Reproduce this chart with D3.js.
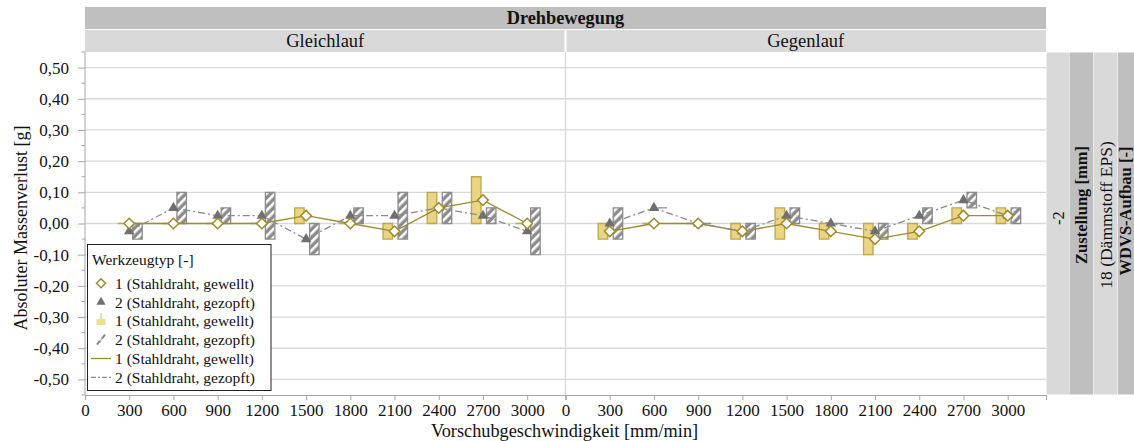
<!DOCTYPE html>
<html><head><meta charset="utf-8">
<script src="https://cdn.jsdelivr.net/npm/d3@7"></script>
<style>
body{margin:0;background:#fff}
text{font-family:"Liberation Serif","Times New Roman",serif;fill:#111}
</style>
</head><body>
<svg id="c" width="1134" height="441"></svg>
<script>
// ---------- data ----------
const speeds = [300, 600, 900, 1200, 1500, 1800, 2100, 2400, 2700, 3000];
const xTickValues = [0, 300, 600, 900, 1200, 1500, 1800, 2100, 2400, 2700, 3000];
const yTickValues = [-0.5, -0.4, -0.3, -0.2, -0.1, 0, 0.1, 0.2, 0.3, 0.4, 0.5];
const panelNames = ["Gleichlauf", "Gegenlauf"];
const seriesNames = ["1 (Stahldraht, gewellt)", "2 (Stahldraht, gezopft)"];

// Gleichlauf
const glS1Mean = [0, 0, 0, 0, 0.025, 0, -0.025, 0.05, 0.075, 0];
const glS1Min  = [0, 0, 0, 0, 0, 0, -0.05, 0, 0, 0];
const glS1Max  = [0, 0, 0, 0, 0.05, 0, 0, 0.10, 0.15, 0];
const glS2Mean = [-0.025, 0.05, 0.025, 0.025, -0.05, 0.025, 0.025, 0.05, 0.025, -0.025];
const glS2Min  = [-0.05, 0, 0, -0.05, -0.10, 0, -0.05, 0, 0, -0.10];
const glS2Max  = [0, 0.10, 0.05, 0.10, 0, 0.05, 0.10, 0.10, 0.05, 0.05];

// Gegenlauf
const geS1Mean = [-0.025, 0, 0, -0.025, 0, -0.025, -0.05, -0.025, 0.025, 0.025];
const geS1Min  = [-0.05, 0, 0, -0.05, -0.05, -0.05, -0.10, -0.05, 0, 0];
const geS1Max  = [0, 0, 0, 0, 0.05, 0, 0, 0, 0.05, 0.05];
const geS2Mean = [0, 0.05, 0, -0.025, 0.025, 0, -0.025, 0.025, 0.075, 0.025];
const geS2Min  = [-0.05, 0.05, 0, -0.05, 0, 0, -0.05, 0, 0.05, 0];
const geS2Max  = [0.05, 0.05, 0, 0, 0.05, 0, 0, 0.05, 0.10, 0.05];

const stripLabels = ["-2", "Zustellung [mm]", "18 (Dämmstoff EPS)", "WDVS-Aufbau [-]"];

// ---------- build ----------
const panels = [
  {name: panelNames[0], s1: {mean: glS1Mean, min: glS1Min, max: glS1Max}, s2: {mean: glS2Mean, min: glS2Min, max: glS2Max}},
  {name: panelNames[1], s1: {mean: geS1Mean, min: geS1Min, max: geS1Max}, s2: {mean: geS2Mean, min: geS2Min, max: geS2Max}}
];

const OLIVE = "#a08a2e", YFILL = "#e9d583", YSTROKE = "#bea749", GTRI = "#6f6f6f", GLINE = "#8a8a8a", GRID = "#d9d9d9", AXIS = "#a6a6a6";
const svg = d3.select("#c");
const defs = svg.append("defs");
const pat = defs.append("pattern").attr("id", "hatch").attr("patternUnits", "userSpaceOnUse")
  .attr("width", 6).attr("height", 6).attr("patternTransform", "rotate(45)");
pat.append("rect").attr("width", 6).attr("height", 6).attr("fill", "#8c8c8c");
pat.append("rect").attr("x", 0).attr("width", 2.6).attr("height", 6).attr("fill", "#ffffff");

const pTop = 52, pBottom = 395, pLeft = 85, panelW = 480.5;
const y = d3.scaleLinear().domain([-0.55, 0.55]).range([pBottom, pTop]);
const loc = d3.formatLocale({decimal: ",", thousands: ".", grouping: [3], currency: ["", "€"], minus: "-"});
const yFmt = loc.format(".2f");

// headers
svg.append("rect").attr("x", pLeft).attr("y", 7).attr("width", panelW * 2).attr("height", 22).attr("fill", "#bfbfbf");
svg.append("text").attr("x", pLeft + panelW).attr("y", 18).attr("dy", ".35em").attr("text-anchor", "middle")
  .attr("font-size", 18.3).attr("font-weight", "bold").text("Drehbewegung");

// right strips
const stripX = [1046.5, 1069.5, 1093.5, 1118];
const stripW = [22.5, 23.5, 24, 16];
const stripCx = [1057.8, 1081.3, 1105.5, 1125.5];
const stripCy = [218, 205, 215, 211];
const stripFill = ["#d9d9d9", "#bfbfbf", "#d9d9d9", "#bfbfbf"];
const stripBold = [false, true, false, true];
stripLabels.forEach((lab, i) => {
  svg.append("rect").attr("x", stripX[i]).attr("y", pTop + 0.5).attr("width", stripW[i]).attr("height", pBottom - pTop - 1).attr("fill", stripFill[i]);
  svg.append("text").attr("transform", `translate(${stripCx[i]},${stripCy[i]}) rotate(-90)`)
    .attr("dy", ".35em").attr("text-anchor", "middle").attr("font-size", i === 2 ? 17.5 : 16.5)
    .attr("font-weight", stripBold[i] ? "bold" : "normal").text(lab);
});

panels.forEach((p, pi) => {
  const x0 = pLeft + pi * panelW;
  const x = d3.scaleLinear().domain([0, 3260]).range([x0, x0 + panelW]);
  const g = svg.append("g");

  // strip header
  g.append("rect").attr("x", x0 + (pi ? 1 : 0)).attr("y", 30).attr("width", panelW - 1).attr("height", 22).attr("fill", "#d9d9d9");
  g.append("text").attr("x", x0 + panelW / 2).attr("y", 41).attr("dy", ".35em").attr("text-anchor", "middle")
    .attr("font-size", 18.5).text(p.name);

  // grid
  g.selectAll("line.grid").data(yTickValues).join("line")
    .attr("x1", x0).attr("x2", x0 + panelW).attr("y1", d => y(d)).attr("y2", d => y(d))
    .attr("stroke", GRID).attr("stroke-width", 1.3);

  if (pi === 1) {
    g.append("line").attr("x1", x0).attr("x2", x0).attr("y1", pTop).attr("y2", pBottom).attr("stroke", GRID).attr("stroke-width", 1.3);
  }

  // x axis
  const ax = g.append("g").attr("transform", `translate(0,${pBottom})`)
    .call(d3.axisBottom(x).tickValues(xTickValues).tickSize(5).tickPadding(4).tickFormat(d3.format("d")));
  ax.select(".domain").attr("stroke", AXIS);
  ax.selectAll(".tick line").attr("stroke", AXIS);
  ax.selectAll("text").attr("font-size", 17).attr("font-family", "Liberation Serif").attr("fill", "#111");

  const barPath = (xa, xb, v1, v2) => {
    const ya = y(Math.max(v1, v2)), yb = y(Math.min(v1, v2));
    return `M${xa},${ya}H${xb}V${yb}H${xa}Z`;
  };

  // bars series 1 (yellow, left) and series 2 (hatched, right)
  g.selectAll("path.b1").data(speeds).join("path")
    .attr("d", (s, i) => barPath(x(s) - 11.5, x(s) - 2, p.s1.min[i], p.s1.max[i]))
    .attr("fill", YFILL).attr("stroke", YSTROKE).attr("stroke-width", 1.3);
  g.selectAll("path.b2").data(speeds).join("path")
    .attr("d", (s, i) => barPath(x(s) + 3.5, x(s) + 13, p.s2.min[i], p.s2.max[i]))
    .attr("fill", "url(#hatch)").attr("stroke", "#8c8c8c").attr("stroke-width", 1.3);

  // lines
  const line = d3.line().x(d => x(d[0])).y(d => y(d[1]));
  g.append("path").attr("d", line(speeds.map((s, i) => [s, p.s1.mean[i]])))
    .attr("fill", "none").attr("stroke", OLIVE).attr("stroke-width", 1.3);
  g.append("path").attr("d", line(speeds.map((s, i) => [s, p.s2.mean[i]])))
    .attr("fill", "none").attr("stroke", GLINE).attr("stroke-width", 1.3).attr("stroke-dasharray", "7,3,2,3");

  // points
  g.selectAll("path.tri").data(speeds).join("path")
    .attr("transform", (s, i) => `translate(${x(s)},${y(p.s2.mean[i])})`)
    .attr("d", d3.symbol(d3.symbolTriangle, 48)).attr("fill", GTRI);
  g.selectAll("path.dia").data(speeds).join("path")
    .attr("transform", (s, i) => `translate(${x(s)},${y(p.s1.mean[i])})`)
    .attr("d", "M0,-5.3L5.3,0L0,5.3L-5.3,0Z").attr("fill", "#fff").attr("stroke", OLIVE).attr("stroke-width", 1.5);
});

// y axis
const ay = svg.append("g").attr("transform", `translate(${pLeft},0)`)
  .call(d3.axisLeft(y).tickValues(yTickValues).tickSize(7).tickPadding(9).tickFormat(yFmt));
ay.select(".domain").attr("stroke", AXIS).attr("d", `M-0,${pTop}V${pBottom}`);
ay.selectAll(".tick line").attr("stroke", AXIS);
ay.selectAll("text").attr("font-size", 17).attr("font-family", "Liberation Serif").attr("fill", "#111");
const minorY = d3.range(-0.55, 0.551, 0.1).map(v => Math.round(v * 1000) / 1000);
svg.append("g").attr("transform", `translate(${pLeft},0)`).selectAll("line").data(minorY).join("line")
  .attr("x1", -3.5).attr("x2", 0).attr("y1", d => y(d)).attr("y2", d => y(d)).attr("stroke", AXIS);

// axis titles
svg.append("text").attr("x", 564.5).attr("y", 436.5).attr("text-anchor", "middle").attr("font-size", 18.3)
  .text("Vorschubgeschwindigkeit [mm/min]");
svg.append("text").attr("transform", `translate(21,228) rotate(-90)`).attr("dy", ".35em")
  .attr("text-anchor", "middle").attr("font-size", 18).text("Absoluter Massenverlust [g]");

// legend
const lg = svg.append("g");
lg.append("rect").attr("x", 87.5).attr("y", 244.5).attr("width", 183.5).attr("height", 146)
  .attr("fill", "#fff").attr("stroke", "#222").attr("stroke-width", 1);
lg.append("text").attr("x", 92).attr("y", 260).attr("dy", ".35em").attr("font-size", 15.5).text("Werkzeugtyp [-]");
const legendLabels = [seriesNames[0], seriesNames[1], seriesNames[0], seriesNames[1], seriesNames[0], seriesNames[1]];
legendLabels.forEach((lab, i) => {
  const cy = 283.3 + i * 18.8, cx = 101;
  lg.append("text").attr("x", 115).attr("y", cy).attr("dy", ".35em").attr("font-size", 15.5).text(lab);
  if (i === 0) {
    lg.append("path").attr("transform", `translate(${cx},${cy})`).attr("d", "M0,-4.5L4.5,0L0,4.5L-4.5,0Z")
      .attr("fill", "#fff").attr("stroke", OLIVE).attr("stroke-width", 1.5);
  } else if (i === 1) {
    lg.append("path").attr("transform", `translate(${cx},${cy})`).attr("d", d3.symbol(d3.symbolTriangle, 36)).attr("fill", GTRI);
  } else if (i === 2) {
    lg.append("line").attr("x1", cx).attr("x2", cx).attr("y1", cy - 8).attr("y2", cy + 4).attr("stroke", "#dcc870").attr("stroke-width", 1.2);
    lg.append("rect").attr("x", cx - 4.5).attr("y", cy - 2).attr("width", 9).attr("height", 6).attr("fill", "#ece08f");
  } else if (i === 3) {
    lg.append("line").attr("x1", cx - 4).attr("x2", cx - 1).attr("y1", cy + 5).attr("y2", cy + 1).attr("stroke", "#888").attr("stroke-width", 2);
    lg.append("line").attr("x1", cx + 1).attr("x2", cx + 4).attr("y1", cy - 1).attr("y2", cy - 5).attr("stroke", "#888").attr("stroke-width", 2);
    lg.append("line").attr("x1", cx - 1).attr("x2", cx + 1).attr("y1", cy + 3).attr("y2", cy - 3).attr("stroke", "#bbb").attr("stroke-width", 1.2);
  } else if (i === 4) {
    lg.append("line").attr("x1", 91).attr("x2", 111).attr("y1", cy).attr("y2", cy).attr("stroke", OLIVE).attr("stroke-width", 1.3);
  } else {
    lg.append("line").attr("x1", 91).attr("x2", 111).attr("y1", cy).attr("y2", cy).attr("stroke", GLINE).attr("stroke-width", 1.3).attr("stroke-dasharray", "5,2,2,2");
  }
});
</script>
</body></html>
